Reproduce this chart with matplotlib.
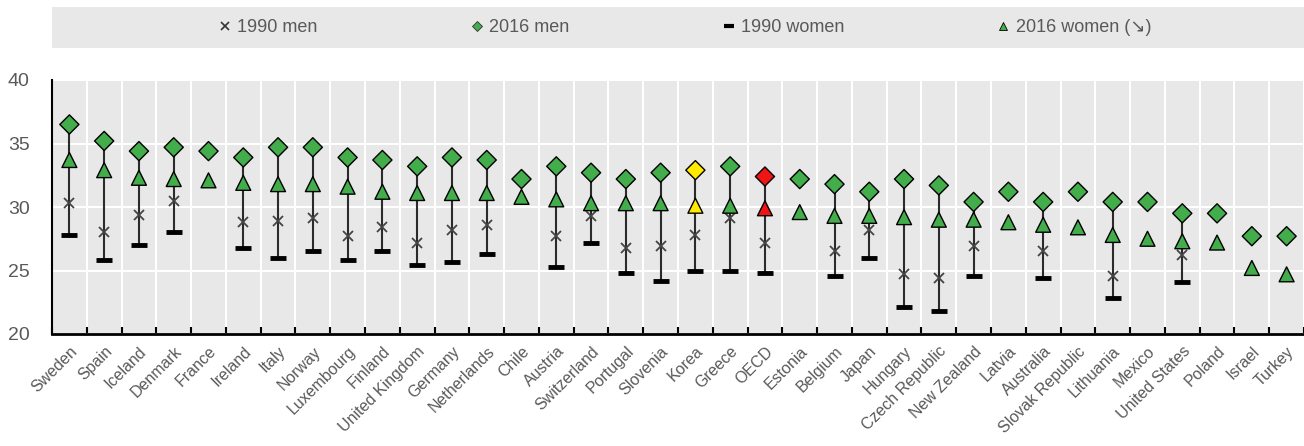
import numpy as np
import matplotlib
matplotlib.use('Agg')
import matplotlib.pyplot as plt
from matplotlib.lines import Line2D
from matplotlib.patches import Rectangle

plt.rcParams['font.family'] = ['Liberation Sans Narrow', 'Liberation Sans', 'DejaVu Sans']

# Mean age at first marriage, by sex, 1990 and 2016
countries = ['Sweden', 'Spain', 'Iceland', 'Denmark', 'France', 'Ireland', 'Italy', 'Norway',
             'Luxembourg', 'Finland', 'United Kingdom', 'Germany', 'Netherlands', 'Chile',
             'Austria', 'Switzerland', 'Portugal', 'Slovenia', 'Korea', 'Greece', 'OECD',
             'Estonia', 'Belgium', 'Japan', 'Hungary', 'Czech Republic', 'New Zealand',
             'Latvia', 'Australia', 'Slovak Republic', 'Lithuania', 'Mexico', 'United States',
             'Poland', 'Israel', 'Turkey']
nan = np.nan
men_1990 = [30.3, 28.0, 29.4, 30.5, nan, 28.8, 28.9, 29.1, 27.7, 28.4, 27.2, 28.2, 28.6, nan,
            27.7, 29.3, 26.8, 26.9, 27.8, 29.1, 27.2, nan, 26.5, 28.2, 24.7, 24.4, 26.9,
            nan, 26.5, nan, 24.6, nan, 26.2, nan, nan, nan]
men_2016 = [36.5, 35.2, 34.4, 34.7, 34.4, 33.9, 34.7, 34.7, 33.9, 33.7, 33.2, 33.9, 33.7, 32.2,
            33.2, 32.7, 32.2, 32.7, 32.9, 33.2, 32.4, 32.2, 31.8, 31.2, 32.2, 31.7, 30.4,
            31.2, 30.4, 31.2, 30.4, 30.4, 29.5, 29.5, 27.7, 27.7]
women_1990 = [27.8, 25.8, 27.0, 28.0, nan, 26.8, 26.0, 26.5, 25.8, 26.5, 25.4, 25.7, 26.3, nan,
              25.3, 27.2, 24.8, 24.2, 25.0, 25.0, 24.8, nan, 24.6, 26.0, 22.1, 21.8, 24.6,
              nan, 24.4, nan, 22.8, nan, 24.1, nan, nan, nan]
women_2016 = [33.7, 32.9, 32.3, 32.2, 32.1, 31.9, 31.8, 31.8, 31.6, 31.2, 31.1, 31.1, 31.1, 30.8,
              30.6, 30.3, 30.3, 30.3, 30.1, 30.1, 29.9, 29.6, 29.3, 29.3, 29.2, 29.0, 29.0,
              28.8, 28.6, 28.4, 27.8, 27.5, 27.3, 27.2, 25.2, 24.7]

green = '#43ad4c'
highlight = {'Korea': '#ffea00', 'OECD': '#f01515'}
colors = [highlight.get(c, green) for c in countries]
x = np.arange(len(countries))

fig = plt.figure(figsize=(13.04, 4.46), dpi=100)
ax = fig.add_axes([52 / 1304, 1 - 334 / 446, 1 - 52 / 1304, (334 - 80) / 446])
ax.set_facecolor('#e8e8e8')

# range line from 1990 women to 2016 men
w90 = np.array(women_1990)
ok = ~np.isnan(w90)
ax.vlines(x[ok], w90[ok], np.array(men_2016)[ok], color='#2b2b2b', lw=1.5, zorder=3)
ax.plot(x, men_1990, 'x', color='#444444', ms=7, mew=1.3, zorder=4)
ax.plot(x, women_1990, '_', color='black', ms=11, mew=3.5, zorder=4)
ax.scatter(x, women_2016, marker='^', s=115, c=colors, edgecolors='black', linewidths=1, zorder=5)
ax.scatter(x, men_2016, marker='D', s=95, c=colors, edgecolors='black', linewidths=1, zorder=6)

ax.set_xlim(-0.5, len(countries) - 0.5)
ax.set_ylim(20, 40)
ax.set_yticks([20, 25, 30, 35, 40])
ax.set_xticks(x)
ax.set_xticklabels(countries, rotation=45, ha='right', rotation_mode='anchor',
                   fontsize=11.5, color='#595959')
ax.set_xticks(np.arange(-0.5, len(countries), 1), minor=True)
ax.tick_params(axis='x', which='major', length=0, pad=7)
ax.tick_params(axis='x', which='minor', direction='in', length=5, width=1.5, color='black')
ax.tick_params(axis='y', which='major', length=0, pad=16, labelsize=14, labelcolor='#595959')
ax.set_yticks([40], minor=True)
ax.tick_params(axis='y', which='minor', direction='in', length=6, width=1.5, color='black')
ax.grid(True, which='minor', axis='x', color='white', lw=1.5)
ax.grid(True, which='major', axis='y', color='white', lw=1.5)
ax.set_axisbelow(True)
for s in ['top', 'right']:
    ax.spines[s].set_visible(False)
ax.spines['left'].set_linewidth(1.5)
ax.spines['bottom'].set_linewidth(2)

# legend band
fig.patches.append(Rectangle((52 / 1304, 1 - 48 / 446), 1 - 52 / 1304, 41 / 446,
                             transform=fig.transFigure, facecolor='#e8e8e8', edgecolor='none'))
handles = [
    Line2D([], [], ls='', marker='x', color='#333333', ms=6, mew=1.2),
    Line2D([], [], ls='', marker='D', mfc=green, mec='#333333', ms=5, mew=0.6),
    Line2D([], [], ls='', marker='_', color='black', ms=7, mew=3),
    Line2D([], [], ls='', marker='^', mfc=green, mec='black', ms=6, mew=0.6),
]
labels = ['1990 men', '2016 men', '1990 women', '2016 women (\u2198)']
leg = fig.legend(handles, labels, loc='center', bbox_to_anchor=(0.525, 1 - 28 / 446), ncol=4,
                 frameon=False, fontsize=13, handlelength=0.8, handletextpad=0.3,
                 columnspacing=8.4)
for t in leg.get_texts():
    t.set_color('#595959')

fig.savefig('out.png', dpi=100)
